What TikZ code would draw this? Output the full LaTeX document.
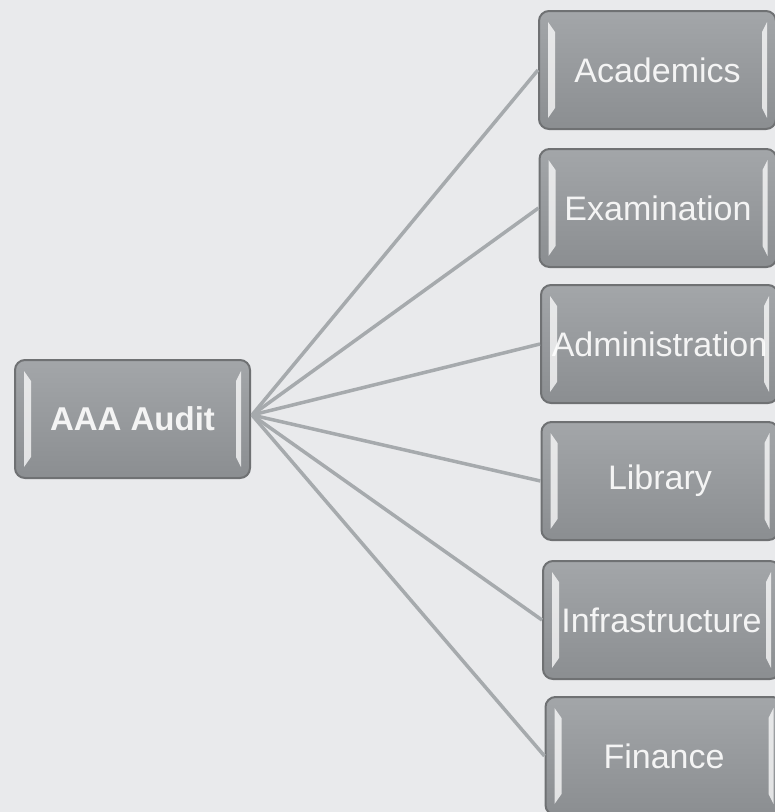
\documentclass[tikz,border=0pt]{standalone}
\usepackage{fontspec}
\setmainfont{Liberation Sans}
\definecolor{bgc}{HTML}{E9EAEC}
\definecolor{boxtop}{HTML}{A3A6A9}
\definecolor{boxbot}{HTML}{8B8E91}
\definecolor{boxline}{HTML}{6F7173}
\definecolor{linkc}{HTML}{A6AAAD}
\definecolor{txtc}{HTML}{F4F4F4}
\tikzset{
  box/.style={rectangle, rounded corners=10pt, draw=boxline, line width=2pt,
    top color=boxtop, bottom color=boxbot, minimum width=237pt, minimum height=118pt,
    text=txtc, font=\fontsize{34}{40}\selectfont, inner sep=0pt},
  rootbox/.style={box, minimum width=235pt, font=\bfseries\fontsize{33}{40}\selectfont},
  link/.style={draw=linkc, line width=3.5pt},
  hl/.style={fill=white, fill opacity=0.75}
}
\newcommand\glossy[1]{%
  \fill[hl] ([xshift=10pt,yshift=-12pt]#1.north west) -- ([xshift=17pt,yshift=-22pt]#1.north west)
     -- ([xshift=17pt,yshift=22pt]#1.south west) -- ([xshift=10pt,yshift=12pt]#1.south west) -- cycle;
  \fill[hl] ([xshift=-10pt,yshift=-12pt]#1.north east) -- ([xshift=-15pt,yshift=-22pt]#1.north east)
     -- ([xshift=-15pt,yshift=22pt]#1.south east) -- ([xshift=-10pt,yshift=12pt]#1.south east) -- cycle;
}
\begin{document}
\begin{tikzpicture}[x=1pt,y=-1pt]
\fill[bgc] (0,0) rectangle (775,812);
\useasboundingbox (0,0) rectangle (775,812);
\coordinate (hub) at (252,415);
\node[rootbox] (aaa) at (132.5,419) {AAA Audit};
\node[box] (acad) at (657.5,70) {Academics};
\node[box] (exam) at (658,208) {Examination};
\node[box] (admin) at (659.5,344) {Administration};
\node[box] (lib) at (660,481) {Library};
\node[box] (infra) at (661.5,620) {Infrastructure};
\node[box] (fin) at (664,756) {Finance};
\foreach \n in {aaa,acad,exam,admin,lib,infra,fin} {\glossy{\n}}
\foreach \n in {acad,exam,admin,lib,infra,fin} {\draw[link] (hub) -- (\n.west);}
\end{tikzpicture}
\end{document}
